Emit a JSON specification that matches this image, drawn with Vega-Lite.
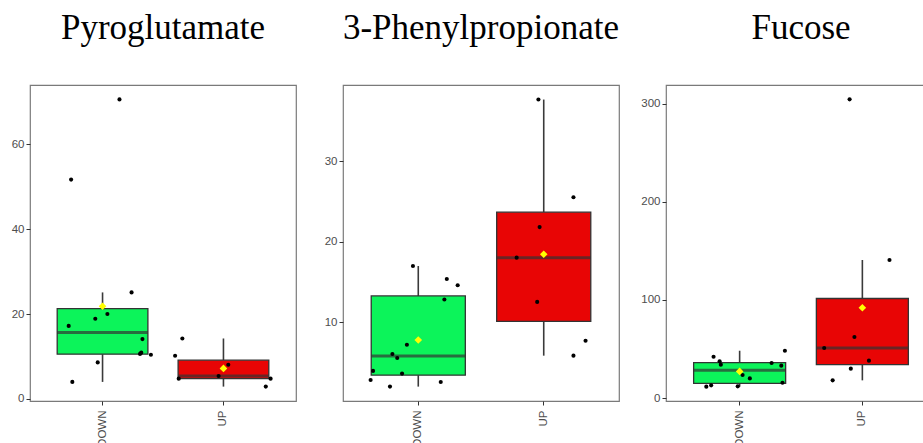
{
  "$schema": "https://vega.github.io/schema/vega-lite/v6.json",
  "background": "white",
  "padding": {"left": 10, "top": 10, "right": 0, "bottom": 0},
  "bounds": "flush",
  "spacing": 47,
  "datasets": {
    "points": [
      {"metabolite": "Pyroglutamate", "group": "DOWN", "value": 70.6, "jitter": 0.14},
      {"metabolite": "Pyroglutamate", "group": "DOWN", "value": 51.7, "jitter": -0.26},
      {"metabolite": "Pyroglutamate", "group": "DOWN", "value": 25.1, "jitter": 0.24},
      {"metabolite": "Pyroglutamate", "group": "DOWN", "value": 17.2, "jitter": -0.28},
      {"metabolite": "Pyroglutamate", "group": "DOWN", "value": 18.9, "jitter": -0.06},
      {"metabolite": "Pyroglutamate", "group": "DOWN", "value": 20.0, "jitter": 0.04},
      {"metabolite": "Pyroglutamate", "group": "DOWN", "value": 14.1, "jitter": 0.33},
      {"metabolite": "Pyroglutamate", "group": "DOWN", "value": 10.9, "jitter": 0.32},
      {"metabolite": "Pyroglutamate", "group": "DOWN", "value": 10.6, "jitter": 0.31},
      {"metabolite": "Pyroglutamate", "group": "DOWN", "value": 10.4, "jitter": 0.40},
      {"metabolite": "Pyroglutamate", "group": "DOWN", "value": 8.6, "jitter": -0.04},
      {"metabolite": "Pyroglutamate", "group": "DOWN", "value": 4.0, "jitter": -0.25},
      {"metabolite": "Pyroglutamate", "group": "UP", "value": 14.24, "jitter": -0.34},
      {"metabolite": "Pyroglutamate", "group": "UP", "value": 10.17, "jitter": -0.40},
      {"metabolite": "Pyroglutamate", "group": "UP", "value": 4.77, "jitter": -0.37},
      {"metabolite": "Pyroglutamate", "group": "UP", "value": 5.40, "jitter": -0.04},
      {"metabolite": "Pyroglutamate", "group": "UP", "value": 8.06, "jitter": 0.04},
      {"metabolite": "Pyroglutamate", "group": "UP", "value": 2.89, "jitter": 0.35},
      {"metabolite": "Pyroglutamate", "group": "UP", "value": 4.77, "jitter": 0.39},
      {"metabolite": "3-Phenylpropionate", "group": "DOWN", "value": 2.81, "jitter": -0.38},
      {"metabolite": "3-Phenylpropionate", "group": "DOWN", "value": 3.93, "jitter": -0.36},
      {"metabolite": "3-Phenylpropionate", "group": "DOWN", "value": 1.98, "jitter": -0.22},
      {"metabolite": "3-Phenylpropionate", "group": "DOWN", "value": 6.03, "jitter": -0.20},
      {"metabolite": "3-Phenylpropionate", "group": "DOWN", "value": 5.54, "jitter": -0.16},
      {"metabolite": "3-Phenylpropionate", "group": "DOWN", "value": 3.60, "jitter": -0.12},
      {"metabolite": "3-Phenylpropionate", "group": "DOWN", "value": 7.19, "jitter": -0.08},
      {"metabolite": "3-Phenylpropionate", "group": "DOWN", "value": 16.98, "jitter": -0.03},
      {"metabolite": "3-Phenylpropionate", "group": "DOWN", "value": 2.56, "jitter": 0.20},
      {"metabolite": "3-Phenylpropionate", "group": "DOWN", "value": 12.81, "jitter": 0.23},
      {"metabolite": "3-Phenylpropionate", "group": "DOWN", "value": 15.37, "jitter": 0.25},
      {"metabolite": "3-Phenylpropionate", "group": "DOWN", "value": 14.59, "jitter": 0.34},
      {"metabolite": "3-Phenylpropionate", "group": "UP", "value": 37.69, "jitter": -0.03},
      {"metabolite": "3-Phenylpropionate", "group": "UP", "value": 25.54, "jitter": 0.26},
      {"metabolite": "3-Phenylpropionate", "group": "UP", "value": 21.82, "jitter": -0.02},
      {"metabolite": "3-Phenylpropionate", "group": "UP", "value": 18.02, "jitter": -0.21},
      {"metabolite": "3-Phenylpropionate", "group": "UP", "value": 12.52, "jitter": -0.04},
      {"metabolite": "3-Phenylpropionate", "group": "UP", "value": 5.83, "jitter": 0.26},
      {"metabolite": "3-Phenylpropionate", "group": "UP", "value": 7.69, "jitter": 0.36},
      {"metabolite": "Fucose", "group": "DOWN", "value": 11.55, "jitter": -0.27},
      {"metabolite": "Fucose", "group": "DOWN", "value": 12.9, "jitter": -0.23},
      {"metabolite": "Fucose", "group": "DOWN", "value": 42.1, "jitter": -0.21},
      {"metabolite": "Fucose", "group": "DOWN", "value": 37.4, "jitter": -0.16},
      {"metabolite": "Fucose", "group": "DOWN", "value": 34.0, "jitter": -0.15},
      {"metabolite": "Fucose", "group": "DOWN", "value": 11.9, "jitter": -0.01},
      {"metabolite": "Fucose", "group": "DOWN", "value": 23.4, "jitter": 0.03},
      {"metabolite": "Fucose", "group": "DOWN", "value": 20.0, "jitter": 0.09},
      {"metabolite": "Fucose", "group": "DOWN", "value": 35.7, "jitter": 0.27},
      {"metabolite": "Fucose", "group": "DOWN", "value": 33.0, "jitter": 0.35},
      {"metabolite": "Fucose", "group": "DOWN", "value": 15.6, "jitter": 0.36},
      {"metabolite": "Fucose", "group": "DOWN", "value": 48.2, "jitter": 0.38},
      {"metabolite": "Fucose", "group": "UP", "value": 304.5, "jitter": -0.10},
      {"metabolite": "Fucose", "group": "UP", "value": 140.7, "jitter": 0.23},
      {"metabolite": "Fucose", "group": "UP", "value": 51.0, "jitter": -0.31},
      {"metabolite": "Fucose", "group": "UP", "value": 62.2, "jitter": -0.06},
      {"metabolite": "Fucose", "group": "UP", "value": 38.1, "jitter": 0.06},
      {"metabolite": "Fucose", "group": "UP", "value": 29.9, "jitter": -0.09},
      {"metabolite": "Fucose", "group": "UP", "value": 18.0, "jitter": -0.24}
    ]
  },
  "hconcat": [
    {
      "width": 266, "height": 316,
      "title": "Pyroglutamate",
      "data": {"name": "points"},
      "transform": [{"filter": "datum.metabolite === 'Pyroglutamate'"}],
      "encoding": {
        "x": {"field": "group", "type": "nominal", "title": null, "scale": {"paddingInner": 0.25, "paddingOuter": 0.225}}
      },
      "layer": [
        {
          "mark": {"type": "boxplot", "extent": 1.5, "size": 90.7, "outliers": false, "ticks": false,
            "box": {"stroke": "#333333", "strokeWidth": 1.3},
            "median": {"color": "#333333", "thickness": 3},
            "rule": {"color": "#3a3a3a", "strokeWidth": 1.6}},
          "encoding": {
            "y": {"field": "value", "type": "quantitative", "title": null, "scale": {"domain": [-0.5, 74.0], "nice": false, "zero": false}, "axis": {"values": [0, 20, 40, 60]}},
            "color": {"field": "group", "type": "nominal", "scale": {"domain": ["DOWN", "UP"], "range": ["#0cf45a", "#e80505"]}, "legend": null}
          }
        },
        {
          "mark": {"type": "circle", "size": 17, "color": "black", "opacity": 1},
          "encoding": {
            "y": {"field": "value", "type": "quantitative", "title": null},
            "xOffset": {"field": "jitter", "type": "quantitative", "scale": {"domain": [-0.375, 0.375]}}
          }
        },
        {
          "mark": {"type": "point", "shape": "diamond", "filled": true, "size": 58, "color": "#ffff00", "opacity": 1},
          "encoding": {"y": {"aggregate": "mean", "field": "value", "type": "quantitative", "title": null}}
        }
      ]
    },
    {
      "width": 276, "height": 316,
      "title": "3-Phenylpropionate",
      "data": {"name": "points"},
      "transform": [{"filter": "datum.metabolite === '3-Phenylpropionate'"}],
      "encoding": {
        "x": {"field": "group", "type": "nominal", "title": null, "scale": {"paddingInner": 0.25, "paddingOuter": 0.225}}
      },
      "layer": [
        {
          "mark": {"type": "boxplot", "extent": 1.5, "size": 94.1, "outliers": false, "ticks": false,
            "box": {"stroke": "#333333", "strokeWidth": 1.3},
            "median": {"color": "#333333", "thickness": 3},
            "rule": {"color": "#3a3a3a", "strokeWidth": 1.6}},
          "encoding": {
            "y": {"field": "value", "type": "quantitative", "title": null, "scale": {"domain": [0.19, 39.5], "nice": false, "zero": false}, "axis": {"values": [10, 20, 30]}},
            "color": {"field": "group", "type": "nominal", "scale": {"domain": ["DOWN", "UP"], "range": ["#0cf45a", "#e80505"]}, "legend": null}
          }
        },
        {
          "mark": {"type": "circle", "size": 17, "color": "black", "opacity": 1},
          "encoding": {
            "y": {"field": "value", "type": "quantitative", "title": null},
            "xOffset": {"field": "jitter", "type": "quantitative", "scale": {"domain": [-0.375, 0.375]}}
          }
        },
        {
          "mark": {"type": "point", "shape": "diamond", "filled": true, "size": 58, "color": "#ffff00", "opacity": 1},
          "encoding": {"y": {"aggregate": "mean", "field": "value", "type": "quantitative", "title": null}}
        }
      ]
    },
    {
      "width": 270, "height": 316,
      "title": "Fucose",
      "data": {"name": "points"},
      "transform": [{"filter": "datum.metabolite === 'Fucose'"}],
      "encoding": {
        "x": {"field": "group", "type": "nominal", "title": null, "scale": {"paddingInner": 0.25, "paddingOuter": 0.225}}
      },
      "layer": [
        {
          "mark": {"type": "boxplot", "extent": 1.5, "size": 92.0, "outliers": false, "ticks": false,
            "box": {"stroke": "#333333", "strokeWidth": 1.3},
            "median": {"color": "#333333", "thickness": 3},
            "rule": {"color": "#3a3a3a", "strokeWidth": 1.6}},
          "encoding": {
            "y": {"field": "value", "type": "quantitative", "title": null, "scale": {"domain": [-3.05, 319.1], "nice": false, "zero": false}, "axis": {"values": [0, 100, 200, 300]}},
            "color": {"field": "group", "type": "nominal", "scale": {"domain": ["DOWN", "UP"], "range": ["#0cf45a", "#e80505"]}, "legend": null}
          }
        },
        {
          "mark": {"type": "circle", "size": 17, "color": "black", "opacity": 1},
          "encoding": {
            "y": {"field": "value", "type": "quantitative", "title": null},
            "xOffset": {"field": "jitter", "type": "quantitative", "scale": {"domain": [-0.375, 0.375]}}
          }
        },
        {
          "mark": {"type": "point", "shape": "diamond", "filled": true, "size": 58, "color": "#ffff00", "opacity": 1},
          "encoding": {"y": {"aggregate": "mean", "field": "value", "type": "quantitative", "title": null}}
        }
      ]
    }
  ],
  "config": {
    "view": {"stroke": "#7a7a7a", "strokeWidth": 1.2},
    "title": {"font": "Liberation Serif", "fontSize": 35, "fontWeight": "normal", "color": "black", "anchor": "middle", "offset": 39},
    "axis": {
      "grid": false, "domain": false,
      "tickColor": "#333333", "tickSize": 4, "tickWidth": 1,
      "labelColor": "#4d4d4d", "labelFont": "Liberation Sans", "labelFontSize": 11.5, "labelPadding": 2
    },
    "axisX": {"labelAngle": -90, "labelAlign": "right", "labelBaseline": "middle", "labelPadding": 5}
  }
}
